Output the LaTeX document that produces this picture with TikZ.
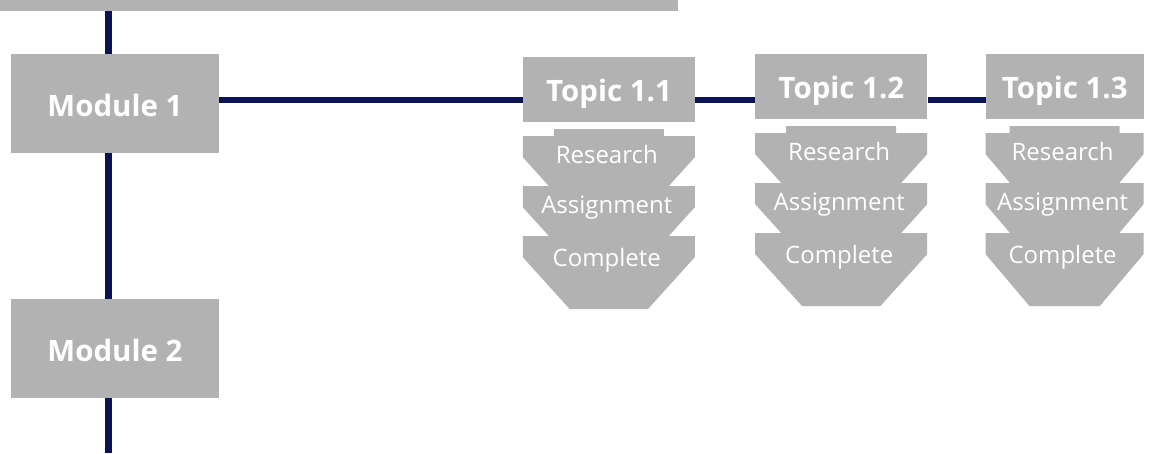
\documentclass[tikz,border=0pt]{standalone}
\usepackage{fontspec}
\setmainfont{Open Sans}
\usetikzlibrary{positioning,calc}
\definecolor{navy}{RGB}{10,20,85}
\definecolor{boxgray}{RGB}{178,178,178}
\def\steps#1#2#3{
\begin{scope}[shift={(#1.south west)}]
  \foreach \y/\b/\lbl/\nm in {7/34/Research/r,57/34/Assignment/a,107/37/Complete/c} {
    \fill[boxgray] ({#2/2-55},\y) -- ++(110,0) -- ({#2/2+55},\y+7) -- (#2,\y+7)
          -- (#2,\y+28) -- ({#2-#3},\y+80) -- (#3,\y+80) -- (0,\y+28)
          -- (0,\y+7) -- ({#2/2-55},\y+7) -- cycle;
    \node [stage] (#1\nm) at ({#2/2-2},\y+\b) {\lbl};
  }
\end{scope}
}
\begin{document}
\begin{tikzpicture}[x=1pt,y=-1pt,node distance=60pt,
    box/.style={fill=boxgray,inner sep=0pt},
    module/.style={box,minimum width=208pt,minimum height=99pt,text=white,
      font=\fontsize{29.5}{35}\selectfont\bfseries,text height=25pt,text depth=0pt},
    topic/.style={box,minimum height=65pt,text=white,
      font=\fontsize{29.5}{35}\selectfont\bfseries,text height=24pt,text depth=0pt},
    stage/.style={text=white,font=\fontsize{24}{29}\selectfont,anchor=base,inner sep=0pt},
    link/.style={navy,line width=6.5pt}]
    \useasboundingbox (0,0) rectangle (1151,453);
    \node [box,minimum width=678pt,minimum height=11pt,anchor=north west] (bar) at (0,0) {};
    \node [module] (m1) at (115,103.5) {Module 1};
    \node [module] (m2) at (115,348.5) {Module 2};
    \node [topic,minimum width=172pt] (t11) at (609,89.5) {Topic 1.1};
    \node [topic,minimum width=172pt,right=60pt of t11,yshift=3pt] (t12) {Topic 1.2};
    \node [topic,minimum width=158pt,right=58pt of t12] (t13) {Topic 1.3};
    \coordinate (trunk) at (108.5,0);
    \coordinate (row) at (0,100);
    \coordinate (end) at (108.5,453);
    \draw [link] (bar.south -| trunk) -- (m1.north -| trunk);
    \draw [link] (m1.south -| trunk) -- (m2.north -| trunk);
    \draw [link] (m2.south -| trunk) -- (end);
    \draw [link] (m1.east |- row) -- (t11.west |- row);
    \draw [link] (t11.east |- row) -- (t12.west |- row);
    \draw [link] (t12.east |- row) -- (t13.west |- row);
    \steps{t11}{172}{47}
    \steps{t12}{172}{47}
    \steps{t13}{158}{44}
\end{tikzpicture}
\end{document}
